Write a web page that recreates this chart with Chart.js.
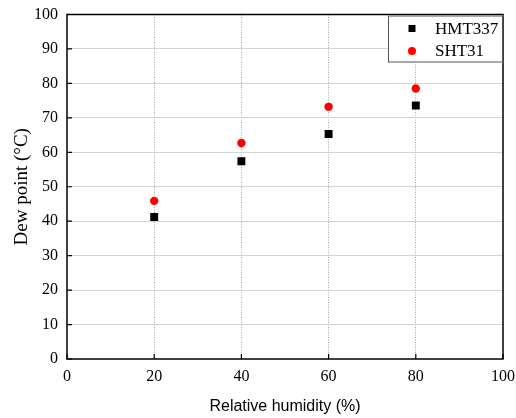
<!DOCTYPE html>
<html>
<head>
<meta charset="utf-8">
<script src="https://cdn.jsdelivr.net/npm/chart.js@4/dist/chart.umd.min.js"></script>
<style>
  html, body { margin: 0; padding: 0; background: #fff; }
  #wrap { width: 516px; height: 418px; }
</style>
</head>
<body>
<div id="wrap"><canvas id="dew"></canvas></div>
<script>
  const humidity = [20, 40, 60, 80];
  const hmt337 = [41.2, 57.4, 65.3, 73.6];
  const sht31 = [45.9, 62.7, 73.2, 78.5];
  const xTicks = [0, 20, 40, 60, 80, 100];
  const yTicks = [0, 10, 20, 30, 40, 50, 60, 70, 80, 90, 100];

  const serif = 'Liberation Serif';
  const sans = 'Liberation Sans';

  // frame, inward ticks and boxed legend like the original plot
  const framePlugin = {
    id: 'frame',
    afterDraw(chart) {
      const ctx = chart.ctx;
      const a = chart.chartArea;
      const xs = chart.scales.x, ys = chart.scales.y;
      ctx.save();
      ctx.strokeStyle = '#000';
      ctx.lineWidth = 1.5;
      ctx.strokeRect(a.left, a.top, a.right - a.left, a.bottom - a.top);
      ctx.lineWidth = 1.2;
      ctx.beginPath();
      xTicks.forEach(v => {
        const px = xs.getPixelForValue(v);
        ctx.moveTo(px, a.bottom);
        ctx.lineTo(px, a.bottom - 5);
      });
      yTicks.forEach(v => {
        const py = ys.getPixelForValue(v);
        ctx.moveTo(a.left, py);
        ctx.lineTo(a.left + 5, py);
      });
      ctx.stroke();

      // legend box
      const bx = 388, by = a.top + 1, bw = a.right - bx, bh = 47;
      ctx.fillStyle = '#fff';
      ctx.fillRect(bx, by, bw, bh);
      ctx.strokeStyle = '#555';
      ctx.lineWidth = 1;
      ctx.strokeRect(bx + 0.5, by + 0.5, bw - 1, bh - 1);
      ctx.font = '17px "' + serif + '"';
      ctx.textBaseline = 'middle';
      chart.data.datasets.forEach((ds, i) => {
        const cy = by + 13 + i * 22.5;
        ctx.fillStyle = ds.backgroundColor;
        if (ds.pointStyle === 'rect') {
          ctx.fillRect(412 - 3.5, cy - 3.5, 7, 7);
        } else {
          ctx.beginPath();
          ctx.arc(412, cy, 4, 0, Math.PI * 2);
          ctx.fill();
        }
        ctx.fillStyle = '#000';
        ctx.fillText(ds.label, 435, cy + 1);
      });
      ctx.restore();
    }
  };

  const skipEdges = (color) => (c) => (c.tick && (c.tick.value === 0 || c.tick.value === 100)) ? 'rgba(0,0,0,0)' : color;

  new Chart(document.getElementById('dew'), {
    type: 'scatter',
    data: {
      datasets: [
        {
          label: 'HMT337',
          data: humidity.map((x, i) => ({ x: x, y: hmt337[i] })),
          backgroundColor: '#000000',
          borderColor: '#000000',
          pointStyle: 'rect',
          pointRadius: 5.6,
          pointBorderWidth: 0
        },
        {
          label: 'SHT31',
          data: humidity.map((x, i) => ({ x: x, y: sht31[i] })),
          backgroundColor: '#ff0000',
          borderColor: '#ff0000',
          pointStyle: 'circle',
          pointRadius: 4.2,
          pointBorderWidth: 0
        }
      ]
    },
    options: {
      responsive: true,
      maintainAspectRatio: false,
      animation: false,
      layout: { padding: { top: 14.5, right: 13, left: 0, bottom: 0 } },
      plugins: {
        legend: { display: false },
        tooltip: { enabled: false }
      },
      scales: {
        x: {
          type: 'linear',
          min: 0,
          max: 100,
          afterBuildTicks: (s) => { s.ticks = xTicks.map(v => ({ value: v })); },
          afterFit: (s) => { s.height = 59; s.paddingLeft = 0; s.paddingRight = 0; },
          grid: { color: skipEdges('#a8a8a8'), lineWidth: 1, drawTicks: false },
          border: { display: false, dash: [1, 1.5] },
          ticks: { padding: 8, color: '#000', font: { family: serif, size: 16 } },
          title: {
            display: true,
            text: 'Relative humidity (%)',
            color: '#000',
            font: { family: sans, size: 16 },
            padding: { top: 0, bottom: 2 }
          }
        },
        y: {
          type: 'linear',
          min: 0,
          max: 100,
          afterBuildTicks: (s) => { s.ticks = yTicks.map(v => ({ value: v })); },
          afterFit: (s) => { s.width = 67; s.paddingTop = 0; s.paddingBottom = 0; },
          grid: { color: skipEdges('#d4d4d4'), lineWidth: 1, drawTicks: false },
          border: { display: false },
          ticks: { padding: 9, color: '#000', font: { family: serif, size: 16 } },
          title: {
            display: true,
            text: 'Dew point (°C)',
            color: '#000',
            font: { family: serif, size: 19 },
            padding: { top: 11, bottom: 0 }
          }
        }
      }
    },
    plugins: [framePlugin]
  });
</script>
</body>
</html>
